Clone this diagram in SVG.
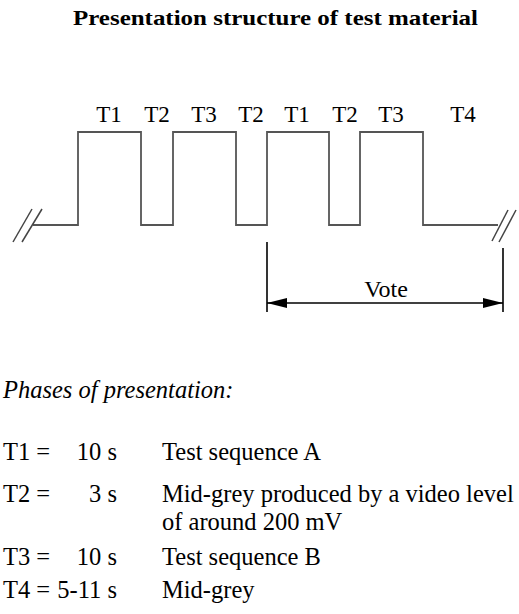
<svg xmlns="http://www.w3.org/2000/svg" width="519" height="614" viewBox="0 0 519 614">
<defs>
<style>
text{font-family:"Liberation Serif","DejaVu Serif",serif;fill:#000;}
.title{font-size:22px;font-weight:bold;}
.lbl{font-size:23px;}
.vote{font-size:24px;}
.body{font-size:24.5px;}
.it{font-size:24.5px;font-style:italic;}
.wave{fill:none;stroke:#555;stroke-width:1.8;}
.dim{fill:none;stroke:#000;stroke-width:1.6;}
.sl{stroke:#444;stroke-width:1.5;}
</style>
<marker id="ah" viewBox="0 0 20 10" refX="20" refY="5" markerWidth="20" markerHeight="10" markerUnits="userSpaceOnUse" orient="auto-start-reverse">
<path d="M0,0 L20,5 L0,10 Z" fill="#000"/>
</marker>
</defs>
<rect width="519" height="614" fill="#fff"/>
<text class="title" x="275.5" y="25" text-anchor="middle" textLength="405" lengthAdjust="spacingAndGlyphs">Presentation structure of test material</text>
<g id="waveform">
<path class="wave" d="M33,225 H78 V132 H141 V225 H173 V132 H236 V225 H267 V132 H329 V225 H360 V132 H423 V225 H498"/>
<line class="sl" x1="13" y1="242" x2="32" y2="209"/>
<line class="sl" x1="22" y1="242" x2="42" y2="209"/>
<line class="sl" x1="492" y1="241" x2="508" y2="210"/>
<line class="sl" x1="499" y1="242" x2="516" y2="210"/>
</g>
<g id="labels">
<text class="lbl" x="109" y="122" text-anchor="middle">T1</text>
<text class="lbl" x="157" y="122" text-anchor="middle">T2</text>
<text class="lbl" x="204" y="122" text-anchor="middle">T3</text>
<text class="lbl" x="251" y="122" text-anchor="middle">T2</text>
<text class="lbl" x="297" y="122" text-anchor="middle">T1</text>
<text class="lbl" x="345" y="122" text-anchor="middle">T2</text>
<text class="lbl" x="391" y="122" text-anchor="middle">T3</text>
<text class="lbl" x="463" y="122" text-anchor="middle">T4</text>
</g>
<g id="connectors">
<line class="dim" x1="267" y1="242" x2="267" y2="312"/>
<line class="dim" x1="503" y1="248" x2="503" y2="312"/>
<line class="dim" x1="267" y1="303" x2="503" y2="303" marker-start="url(#ah)" marker-end="url(#ah)"/>
</g>
<g id="vote">
<text class="vote" x="386" y="297" text-anchor="middle">Vote</text>
</g>
<g id="phases">
<text class="it" x="3" y="398">Phases of presentation:</text>
<text class="body" x="3" y="460">T1 =</text>
<text class="body" x="117" y="460" text-anchor="end">10 s</text>
<text class="body" x="162" y="460">Test sequence A</text>
<text class="body" x="3" y="502">T2 =</text>
<text class="body" x="117" y="502" text-anchor="end">3 s</text>
<text class="body" x="162" y="502">Mid-grey produced by a video level</text>
<text class="body" x="162" y="530">of around 200 mV</text>
<text class="body" x="3" y="565">T3 =</text>
<text class="body" x="117" y="565" text-anchor="end">10 s</text>
<text class="body" x="162" y="565">Test sequence B</text>
<text class="body" x="3" y="598">T4 =</text>
<text class="body" x="117" y="598" text-anchor="end">5-11 s</text>
<text class="body" x="162" y="598">Mid-grey</text>
</g>
</svg>
